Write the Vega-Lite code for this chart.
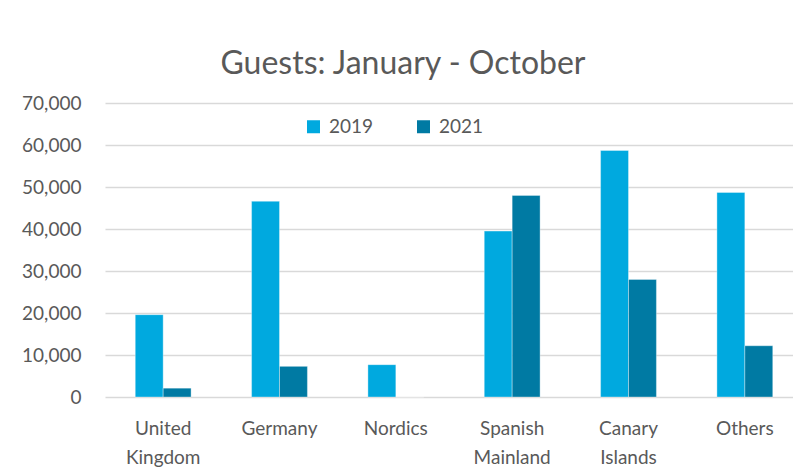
{
  "$schema": "https://vega.github.io/schema/vega-lite/v6.json",
  "width": 698,
  "height": 294,
  "autosize": "none",
  "padding": {"left": 105, "top": 103, "right": 0, "bottom": 75},
  "background": "white",
  "title": {
    "text": "Guests: January - October",
    "font": "Lato",
    "fontSize": 32,
    "fontWeight": "normal",
    "color": "#595959",
    "anchor": "middle",
    "baseline": "alphabetic",
    "dx": -51,
    "offset": -12
  },
  "data": {
    "values": [
      {"region": "United Kingdom", "year": "2019", "guests": 19600},
      {"region": "United Kingdom", "year": "2021", "guests": 2100},
      {"region": "Germany", "year": "2019", "guests": 46600},
      {"region": "Germany", "year": "2021", "guests": 7300},
      {"region": "Nordics", "year": "2019", "guests": 7700},
      {"region": "Nordics", "year": "2021", "guests": 0},
      {"region": "Spanish Mainland", "year": "2019", "guests": 39500},
      {"region": "Spanish Mainland", "year": "2021", "guests": 48000},
      {"region": "Canary Islands", "year": "2019", "guests": 58700},
      {"region": "Canary Islands", "year": "2021", "guests": 28000},
      {"region": "Others", "year": "2019", "guests": 48700},
      {"region": "Others", "year": "2021", "guests": 12200}
    ]
  },
  "mark": {"type": "bar", "stroke": "#ffffff", "strokeOpacity": 0.35, "strokeWidth": 1},
  "encoding": {
    "x": {
      "field": "region",
      "type": "nominal",
      "sort": null,
      "scale": {"paddingInner": 0.52, "paddingOuter": 0.26},
      "axis": {
        "title": null,
        "labelAngle": 0,
        "ticks": false,
        "domain": false,
        "labelFont": "Lato",
        "labelFontSize": 19,
        "labelColor": "#595959",
        "labelPadding": 22,
        "labelBaseline": "top",
        "labelLineHeight": 29,
        "labelExpr": "split(datum.label, ' ')"
      }
    },
    "xOffset": {"field": "year", "type": "nominal", "scale": {"paddingInner": 0}},
    "y": {
      "field": "guests",
      "type": "quantitative",
      "scale": {"domain": [0, 70000], "nice": false},
      "axis": {
        "title": null,
        "values": [0, 10000, 20000, 30000, 40000, 50000, 60000, 70000],
        "format": ",.0f",
        "ticks": false,
        "domain": false,
        "labelFont": "Lato",
        "labelFontSize": 19,
        "labelColor": "#595959",
        "labelPadding": 24,
        "gridColor": "#D9D9D9",
        "gridWidth": 1.3
      }
    },
    "color": {
      "field": "year",
      "type": "nominal",
      "scale": {"domain": ["2019", "2021"], "range": ["#00A9DF", "#007AA3"]},
      "legend": {
        "title": null,
        "orient": "none",
        "legendX": 199,
        "legendY": 14,
        "direction": "horizontal",
        "symbolType": "square",
        "symbolSize": 169,
        "symbolStrokeWidth": 0,
        "labelFont": "Lato",
        "labelFontSize": 19,
        "labelColor": "#595959",
        "labelOffset": 6,
        "columnPadding": 40
      }
    }
  },
  "config": {"view": {"stroke": null}}
}
